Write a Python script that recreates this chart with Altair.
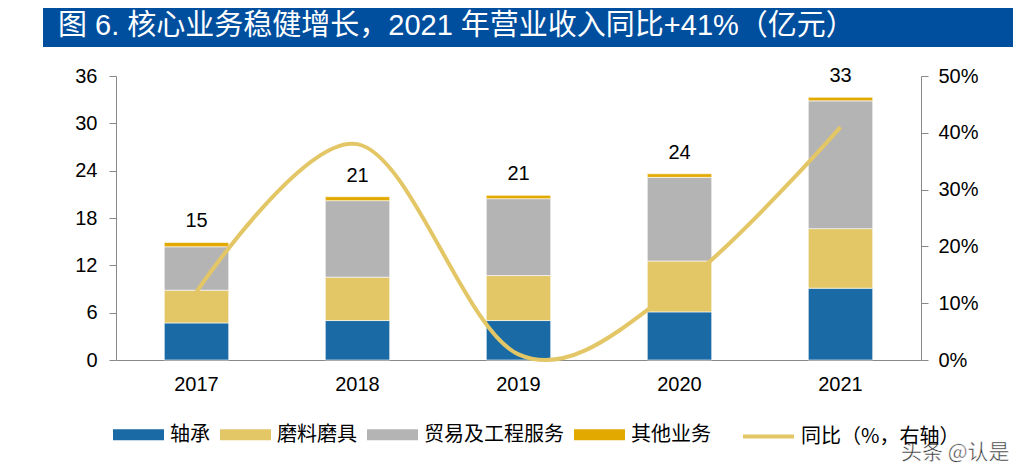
import altair as alt
import pandas as pd

# ---- data ----
years = ["2017", "2018", "2019", "2020", "2021"]
segments = ["轴承", "磨料磨具", "贸易及工程服务", "其他业务"]
bearing = [4.7, 5.0, 5.0, 6.1, 9.1]
abrasive = [4.15, 5.5, 5.7, 6.45, 7.55]
trade = [5.5, 9.7, 9.75, 10.6, 16.2]
other = [0.55, 0.5, 0.42, 0.45, 0.45]
yoy = [12, 38, 1, 13, 41]
yoy_name = "同比（%，右轴）"
left_ticks = [0, 6, 12, 18, 24, 30, 36]
right_ticks = [0, 10, 20, 30, 40, 50]
title_text = "图 6. 核心业务稳健增长，2021 年营业收入同比+41%（亿元）"
watermark = "头条 @认是"

seg_colors = ["#1A6AA6", "#E3C666", "#B4B4B4", "#E2A900"]
line_color = "#E3C666"
blue = "#004E9E"

rows = []
for i, y in enumerate(years):
    for k, (s, vals) in enumerate(zip(segments, [bearing, abrasive, trade, other])):
        rows.append({"year": y, "seg": s, "value": vals[i], "ord": k})
df = pd.DataFrame(rows)
line_df = pd.DataFrame({"year": years, "yoy": yoy, "name": [yoy_name] * len(years)})

x_enc = alt.X(
    "year:N",
    sort=years,
    scale=alt.Scale(paddingInner=0.6, paddingOuter=0.3),
    axis=alt.Axis(title=None, labelAngle=0, ticks=False, labelPadding=14),
)

left_axis = alt.Axis(values=left_ticks, title=None, grid=False, tickSize=7, labelPadding=12, orient="left")
left_scale = alt.Scale(domain=[0, 36], nice=False)

bars = alt.Chart(df).mark_bar(stroke="white", strokeWidth=0.6).encode(
    x=x_enc,
    y=alt.Y("value:Q", stack="zero", scale=left_scale, axis=left_axis),
    color=alt.Color(
        "seg:N",
        scale=alt.Scale(domain=segments, range=seg_colors),
        legend=alt.Legend(
            title=None,
            orient="none",
            legendX=-3,
            legendY=333,
            direction="horizontal",
            symbolType="M-1,-0.216H1V0.216H-1Z",
            symbolSize=2601,
            symbolStrokeWidth=0,
            symbolOpacity=1,
            labelFontSize=20,
            labelFont="Noto Sans CJK SC",
            labelColor="black",
            labelOffset=6,
            columnPadding=10,
            padding=0,
        ),
    ),
    order=alt.Order("ord:Q", sort="ascending"),
)

labels = (
    alt.Chart(df)
    .transform_aggregate(total="sum(value)", groupby=["year"])
    .mark_text(dy=-15, baseline="alphabetic", fontSize=20, font="Liberation Sans", color="black")
    .encode(
        x=x_enc,
        y=alt.Y("total:Q", scale=left_scale, axis=left_axis),
        text=alt.Text("total:Q", format=".0f"),
    )
)

left = alt.layer(bars, labels)

line = alt.Chart(line_df).mark_line(interpolate="cardinal", strokeWidth=4).encode(
    x=x_enc,
    y=alt.Y(
        "yoy:Q",
        scale=alt.Scale(domain=[0, 50], nice=False),
        axis=alt.Axis(
            orient="right",
            values=right_ticks,
            title=None,
            grid=False,
            tickSize=7,
            labelPadding=10,
            labelExpr="datum.value + '%'",
        ),
    ),
    stroke=alt.Stroke(
        "name:N",
        scale=alt.Scale(domain=[yoy_name], range=[line_color]),
        legend=alt.Legend(
            title=None,
            orient="none",
            legendX=625,
            legendY=333,
            symbolType="stroke",
            symbolSize=2601,
            symbolStrokeWidth=4,
            labelFontSize=20,
            labelFont="Noto Sans CJK SC",
            labelColor="black",
            labelOffset=5,
            padding=0,
        ),
    ),
)

deco_df = pd.DataFrame({"t": [title_text], "w": [watermark]})
title_rect = alt.Chart(deco_df).mark_rect(color=blue).encode(
    x=alt.value(-73), x2=alt.value(897), y=alt.value(-71), y2=alt.value(-29)
)
title_txt = alt.Chart(deco_df).mark_text(
    align="left", baseline="middle", color="white", fontSize=29,
    font="Liberation Sans, Noto Sans CJK SC",
).encode(x=alt.value(-58), y=alt.value(-50), text="t:N")
bottom_rule = alt.Chart(deco_df).mark_rule(color=blue, strokeWidth=3).encode(
    x=alt.value(-74), x2=alt.value(897), y=alt.value(395.5)
)
wm = alt.Chart(deco_df).mark_text(
    align="left", baseline="middle", color="#333333", fontSize=21,
    font="Noto Sans CJK SC", stroke="white", strokeWidth=0.5,
).encode(x=alt.value(785), y=alt.value(377), text="w:N")

chart = (
    alt.layer(left, line, title_rect, title_txt, bottom_rule, wm)
    .resolve_scale(y="independent")
    .properties(
        width=805,
        height=284,
        autosize="none",
        padding={"left": 108, "top": 68, "right": 104, "bottom": 107},
    )
    .configure_view(stroke=None)
    .configure_axis(
        labelFont="Liberation Sans",
        labelFontSize=20,
        labelColor="black",
        domainColor="#898989",
        tickColor="#898989",
    )
)

chart.save("out.html", embed_options={"renderer": "svg", "actions": False})
